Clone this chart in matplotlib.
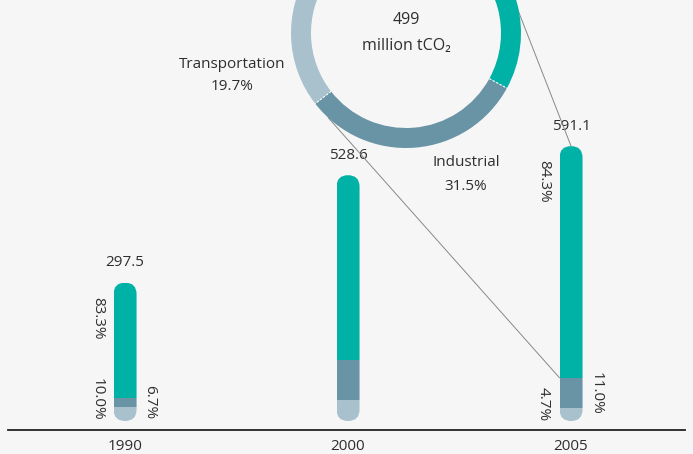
import numpy as np
import matplotlib.pyplot as plt
from matplotlib.patches import FancyBboxPatch, ConnectionPatch

# data
years = ["1990", "2000", "2005"]
totals = [297.5, 528.6, 591.1]
share_res = [83.3, 75.0, 84.3]      # residential / commercial
share_ind = [6.7, 16.5, 11.0]       # industrial
share_tra = [10.0, 8.5, 4.7]        # transportation
show_shares = [True, False, True]

donut_labels = ["Residential/Commercial", "Industrial", "Transportation"]
donut_values = [48.8, 31.5, 19.7]
donut_total = 499

c_res = "#00b2a5"
c_ind = "#6894a6"
c_tra = "#a8c1cd"
bg = "#f6f6f6"
txt = "#2e2e2e"
fs = 11

plt.rcParams['font.family'] = ['Open Sans', 'DejaVu Sans']

W, H = 693, 454
fig = plt.figure(figsize=(W / 100, H / 100), dpi=100, facecolor=bg)

# bar axes (pixel layout: baseline y=430, bars at x=125/348/571)
ax = fig.add_axes([8 / W, 24 / H, 677 / W, 430 / H])
ax.set_facecolor(bg)
px_per_unit = 0.465
ax.set_xlim(-0.525, 2.511)
ax.set_ylim(-9 / px_per_unit, (430 - 9) / px_per_unit)
for s in ["left", "right", "top"]:
    ax.spines[s].set_visible(False)
ax.spines["bottom"].set_color("#222222")
ax.spines["bottom"].set_linewidth(1.3)
ax.set_yticks([])
x = np.arange(len(years))
ax.set_xticks(x)
ax.set_xticklabels(years, fontsize=fs, color=txt)
ax.tick_params(axis="x", length=0, pad=6.5)

bw = 23 / 223
x_per_px = 1 / 223
y_per_px = 1 / px_per_unit
r = 11.5 * x_per_px

tra = np.array(totals) * np.array(share_tra) / 100
ind = np.array(totals) * np.array(share_ind) / 100
res = np.array(totals) * np.array(share_res) / 100

for i in range(len(years)):
    clip = FancyBboxPatch((x[i] - bw / 2, 0), bw, totals[i],
                          boxstyle="round,pad=0,rounding_size=%f" % r,
                          mutation_aspect=y_per_px / x_per_px,
                          transform=ax.transData, facecolor="none", edgecolor="none")
    ax.add_patch(clip)
    bars = [
        ax.bar(x[i], tra[i], bw, bottom=0, color=c_tra, linewidth=0),
        ax.bar(x[i], ind[i], bw, bottom=tra[i], color=c_ind, linewidth=0),
        ax.bar(x[i], res[i], bw, bottom=tra[i] + ind[i], color=c_res, linewidth=0),
    ]
    for b in bars:
        for p in b:
            p.set_clip_path(clip)

    ax.annotate(f"{totals[i]:.1f}", (x[i], totals[i]), xytext=(0, 9),
                textcoords="offset points", ha="center", va="bottom",
                fontsize=fs, color=txt)

    if show_shares[i]:
        ax.annotate(f"{share_res[i]:.1f}%", (x[i], totals[i]), xytext=(-20, -10),
                    textcoords="offset points", ha="center", va="top",
                    rotation=270, fontsize=fs, color=txt)
        ax.annotate(f"{share_tra[i]:.1f}%", (x[i], 0), xytext=(-20, 0),
                    textcoords="offset points", ha="center", va="bottom",
                    rotation=270, fontsize=fs, color=txt)
        ax.annotate(f"{share_ind[i]:.1f}%", (x[i], tra[i] + ind[i] / 2), xytext=(18, 0),
                    textcoords="offset points", ha="center", va="center",
                    rotation=270, fontsize=fs, color=txt)

# donut axes, center at (406, 33) px from top, outer radius 115 px
cx, cy, R = 406, 454 - 33, 115
dax = fig.add_axes([(cx - R) / W, (cy - R) / H, 2 * R / W, 2 * R / H])
dax.patch.set_alpha(0)
dax.set_zorder(3)
ring = 20 / R
start = 147
dax.pie(donut_values, colors=[c_res, c_ind, c_tra], startangle=start,
        counterclock=False, radius=1, wedgeprops=dict(width=ring, linewidth=0))
dax.set_xlim(-1, 1)
dax.set_ylim(-1, 1)
dax.axis("off")

# dashed white separators between wedges
ang = start
for v in donut_values:
    a = np.deg2rad(ang)
    dax.plot([(1 - ring) * np.cos(a), np.cos(a)], [(1 - ring) * np.sin(a), np.sin(a)],
             color="white", lw=0.8, ls=(0, (2, 1.5)))
    ang -= v / sum(donut_values) * 360

dax.text(0, 0.11, f"{donut_total}", ha="center", va="center", fontsize=fs + 0.5, color=txt)
dax.text(0, -0.11, "million tCO₂", ha="center", va="center", fontsize=fs + 0.5, color=txt)

fig.text(232 / W, 1 - 64 / H, "Transportation", ha="center", va="center",
         fontsize=fs, color=txt)
fig.text(232 / W, 1 - 87 / H, f"{donut_values[2]:.1f}%", ha="center", va="center",
         fontsize=fs, color=txt)
fig.text(466 / W, 1 - 163 / H, "Industrial", ha="center", va="center",
         fontsize=fs, color=txt)
fig.text(466 / W, 1 - 186 / H, f"{donut_values[1]:.1f}%", ha="center", va="center",
         fontsize=fs, color=txt)

# connector lines from donut to 2005 bar
a1 = np.deg2rad(33)
con1 = ConnectionPatch(xyA=(np.cos(a1), np.sin(a1)), coordsA=dax.transData,
                       xyB=(x[2], totals[2]), coordsB=ax.transData,
                       color="#888888", lw=0.7, zorder=2)
fig.add_artist(con1)
a2 = np.deg2rad(-132.5)
con2 = ConnectionPatch(xyA=(np.cos(a2), np.sin(a2)), coordsA=dax.transData,
                       xyB=(x[2] - bw / 2, tra[2] + ind[2]), coordsB=ax.transData,
                       color="#888888", lw=0.7, zorder=2)
fig.add_artist(con2)

fig.savefig("out.png", dpi=100, facecolor=bg)
